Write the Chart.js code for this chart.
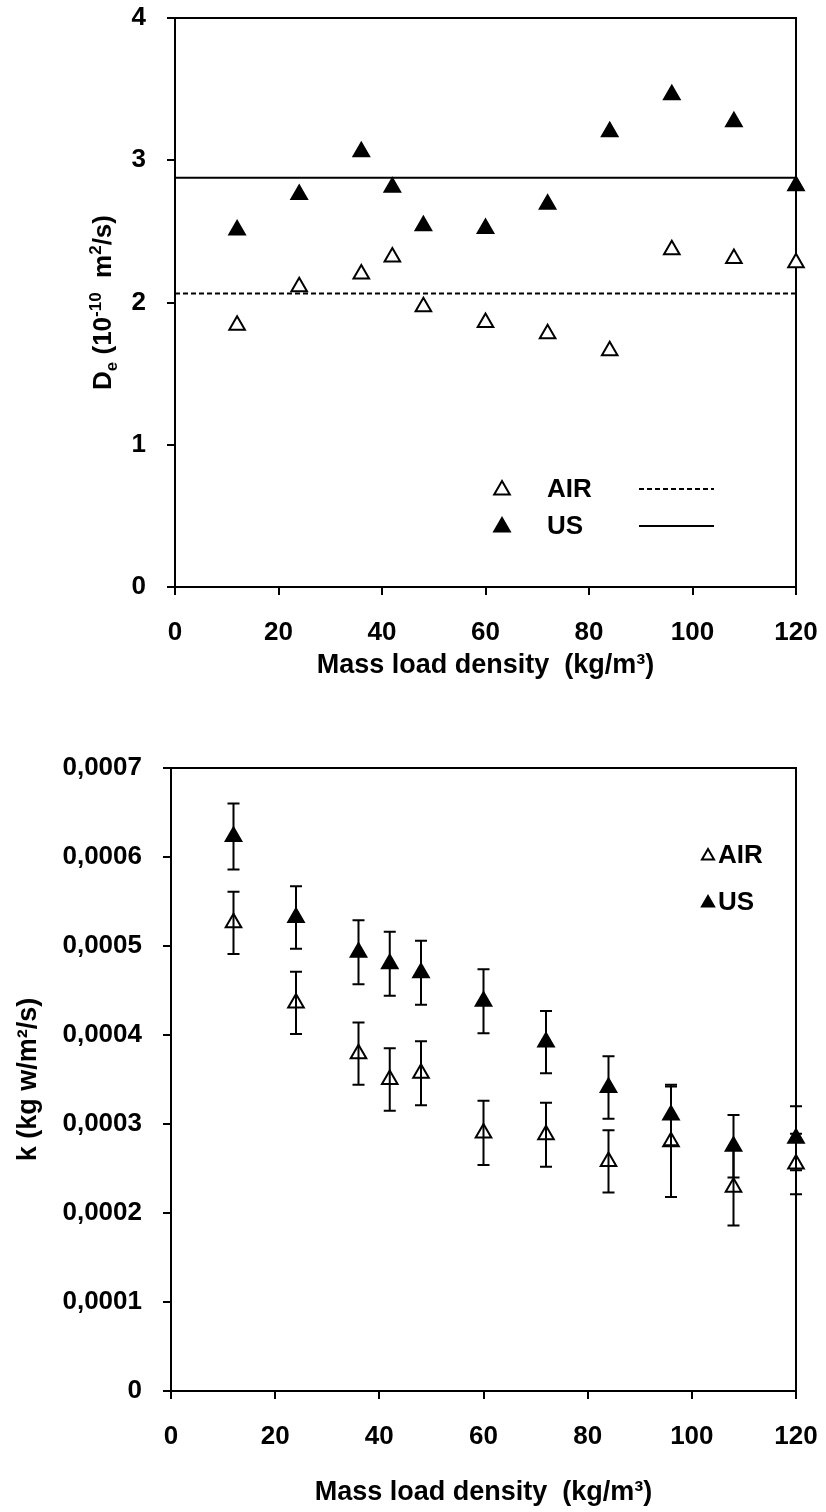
<!DOCTYPE html>
<html>
<head>
<meta charset="utf-8">
<script src="https://cdn.jsdelivr.net/npm/chart.js@4"></script>
<style>
  body { margin: 0; background: #fff; }
  canvas { position: absolute; left: 0; }
  #deChart { top: 0; }
  #kChart { top: 720px; }
</style>
</head>
<body>
<canvas id="deChart" width="826" height="720"></canvas>
<canvas id="kChart" width="826" height="792"></canvas>
<script>
// mass load density, kg/m3
const loads = [12, 24, 36, 42, 48, 60, 72, 84, 96, 108, 120];

// effective diffusivity De, 10^-10 m2/s
const deAir = [1.84, 2.11, 2.20, 2.32, 1.97, 1.86, 1.78, 1.66, 2.37, 2.31, 2.28];
const deUs = [2.51, 2.76, 3.06, 2.81, 2.54, 2.52, 2.69, 3.20, 3.46, 3.27, 2.82];

// mass transfer coefficient k, kg w/m2/s, with error bar half-widths
const kAir = [0.000526, 0.000436, 0.000379, 0.000350, 0.000357, 0.000290, 0.000288, 0.000258, 0.000280, 0.000229, 0.000255];
const kAirErr = [0.000035, 0.000035, 0.000035, 0.000035, 0.000036, 0.000036, 0.000036, 0.000035, 0.000062, 0.000043, 0.000034];
const kUs = [0.000623, 0.000532, 0.000493, 0.000480, 0.000470, 0.000438, 0.000392, 0.000341, 0.000310, 0.000275, 0.000284];
const kUsErr = [0.000037, 0.000035, 0.000036, 0.000036, 0.000036, 0.000036, 0.000035, 0.000035, 0.000034, 0.000035, 0.000036];

const seriesNames = ["AIR", "US"];
const xTitle = "Mass load density  (kg/m³)";
const kTitle = "k (kg w/m²/s)";

const FONT = "'Liberation Sans', Arial, sans-serif";
const tickFont = { family: FONT, size: 26, weight: "bold" };
const titleFont = { family: FONT, size: 27, weight: "bold" };

const points = vals => loads.map((x, i) => ({ x, y: vals[i] }));
const mean = vals => vals.reduce((a, b) => a + b, 0) / vals.length;

// fixed axis box sizes; label overhang must not shrink the plot area
function xScale(height, titlePad) {
  return {
    type: "linear", min: 0, max: 120,
    ticks: { stepSize: 20, color: "#000", font: tickFont, padding: 22, maxRotation: 0 },
    grid: { drawOnChartArea: false, tickLength: 8, color: "#000", lineWidth: 2 },
    border: { color: "#000", width: 2 },
    title: { display: true, text: xTitle, color: "#000", font: titleFont, padding: { top: 0, bottom: titlePad } },
    afterFit: s => { s.height = height; s.paddingLeft = 0; s.paddingRight = 0; }
  };
}

function yScale(width, max, step) {
  return {
    type: "linear", min: 0, max,
    ticks: { stepSize: step, color: "#000", font: tickFont, padding: 21 },
    grid: { drawOnChartArea: false, tickLength: 8, color: "#000", lineWidth: 2 },
    border: { color: "#000", width: 2 },
    afterFit: s => { s.width = width; s.paddingTop = 0; s.paddingBottom = 0; }
  };
}

function marker(filled, r) {
  return {
    pointStyle: "triangle", pointRadius: r, pointHoverRadius: r,
    pointBackgroundColor: filled ? "#000" : "#fff",
    pointBorderColor: "#000", pointBorderWidth: 2,
    showLine: false, clip: false
  };
}

// top and right sides of the plot box
const frame = {
  id: "frame",
  beforeDatasetsDraw(chart) {
    const { ctx, chartArea: a } = chart;
    ctx.save();
    ctx.strokeStyle = "#000";
    ctx.lineWidth = 2;
    ctx.strokeRect(a.left, a.top, a.right - a.left, a.bottom - a.top);
    ctx.restore();
  }
};

// vertical error bars with caps, for datasets carrying an `errors` array
const errorBars = {
  id: "errorBars",
  afterDatasetsDraw(chart) {
    const { ctx, scales: { x, y } } = chart;
    ctx.save();
    ctx.strokeStyle = "#000";
    ctx.lineWidth = 2;
    chart.data.datasets.forEach(ds => {
      if (!ds.errors) return;
      ds.data.forEach((p, i) => {
        const px = x.getPixelForValue(p.x);
        const hi = y.getPixelForValue(p.y + ds.errors[i]);
        const lo = y.getPixelForValue(p.y - ds.errors[i]);
        ctx.beginPath();
        ctx.moveTo(px, hi); ctx.lineTo(px, lo);
        ctx.moveTo(px - 6, hi); ctx.lineTo(px + 6, hi);
        ctx.moveTo(px - 6, lo); ctx.lineTo(px + 6, lo);
        ctx.stroke();
      });
    });
    ctx.restore();
  }
};

// De axis title with subscript / superscripts
const deTitle = {
  id: "deTitle",
  afterDraw(chart) {
    const { ctx, chartArea: a } = chart;
    const parts = [["D", 0], ["e", 1], [" (10", 0], ["-10", -1], ["  m", 0], ["2", -1], ["/s)", 0]];
    const big = `bold 26px ${FONT}`, small = `bold 17px ${FONT}`;
    ctx.save();
    ctx.translate(102, (a.top + a.bottom) / 2);
    ctx.rotate(-Math.PI / 2);
    ctx.fillStyle = "#000";
    ctx.textBaseline = "alphabetic";
    let total = 0;
    parts.forEach(([t, s]) => { ctx.font = s ? small : big; total += ctx.measureText(t).width; });
    let cx = -total / 2;
    parts.forEach(([t, s]) => {
      ctx.font = s ? small : big;
      ctx.fillText(t, cx, 9 + (s === 1 ? 6 : s === -1 ? -10 : 0));
      cx += ctx.measureText(t).width;
    });
    ctx.restore();
  }
};

function legendPlugin(rows) {
  return {
    id: "legendBox",
    afterDraw(chart) {
      const { ctx } = chart;
      ctx.save();
      rows.forEach(row => {
        ctx.fillStyle = row.filled ? "#000" : "#fff";
        ctx.strokeStyle = "#000";
        ctx.lineWidth = 2;
        Chart.helpers.drawPoint(ctx, { pointStyle: "triangle", radius: row.r, borderWidth: 2 }, row.mx, row.y);
        ctx.fillStyle = "#000";
        ctx.font = `bold ${row.size}px ${FONT}`;
        ctx.textBaseline = "middle";
        ctx.fillText(row.text, row.tx, row.y);
        if (row.line) {
          ctx.beginPath();
          ctx.setLineDash(row.dash || []);
          ctx.lineWidth = 2;
          ctx.moveTo(row.line[0], row.y - 1);
          ctx.lineTo(row.line[1], row.y - 1);
          ctx.stroke();
          ctx.setLineDash([]);
        }
      });
      ctx.restore();
    }
  };
}

const airMean = mean(deAir);
const usMean = mean(deUs);

new Chart(document.getElementById("deChart"), {
  type: "scatter",
  data: {
    datasets: [
      { label: "AIR mean", data: [{ x: 0, y: airMean }, { x: 120, y: airMean }], showLine: true,
        borderColor: "#000", borderWidth: 2, borderDash: [5, 3], pointRadius: 0 },
      { label: "US mean", data: [{ x: 0, y: usMean }, { x: 120, y: usMean }], showLine: true,
        borderColor: "#000", borderWidth: 2, pointRadius: 0 },
      { label: seriesNames[0], data: points(deAir), ...marker(false, 9) },
      { label: seriesNames[1], data: points(deUs), ...marker(true, 9) }
    ]
  },
  options: {
    responsive: false, animation: false, devicePixelRatio: 1,
    layout: { autoPadding: false, padding: { left: 0, right: 30, top: 18, bottom: 33 } },
    plugins: { legend: { display: false }, tooltip: { enabled: false } },
    scales: { x: xScale(100, 5), y: yScale(175, 4, 1) }
  },
  plugins: [frame, deTitle, legendPlugin([
    { text: seriesNames[0], filled: false, r: 9, mx: 502, tx: 547, y: 490, size: 26, line: [639, 714], dash: [5, 3] },
    { text: seriesNames[1], filled: true, r: 9, mx: 502, tx: 547, y: 527, size: 26, line: [639, 714] }
  ])]
});

new Chart(document.getElementById("kChart"), {
  type: "scatter",
  data: {
    datasets: [
      { label: seriesNames[0], data: points(kAir), errors: kAirErr, ...marker(false, 9) },
      { label: seriesNames[1], data: points(kUs), errors: kUsErr, ...marker(true, 9) }
    ]
  },
  options: {
    responsive: false, animation: false, devicePixelRatio: 1,
    layout: { autoPadding: false, padding: { left: 0, right: 30, top: 48, bottom: 1 } },
    plugins: { legend: { display: false }, tooltip: { enabled: false } },
    scales: {
      x: xScale(120, 2),
      y: {
        ...yScale(171, 0.0007, 0.0001),
        ticks: {
          stepSize: 0.0001, color: "#000", font: tickFont, padding: 21,
          callback: v => v === 0 ? "0" : v.toFixed(4).replace(".", ",")
        },
        title: { display: true, text: kTitle, color: "#000", font: titleFont, padding: { top: 12, bottom: 0 } }
      }
    }
  },
  plugins: [frame, errorBars, legendPlugin([
    { text: seriesNames[0], filled: false, r: 7, mx: 708, tx: 718, y: 136, size: 26 },
    { text: seriesNames[1], filled: true, r: 7, mx: 708, tx: 718, y: 183, size: 26 }
  ])]
});
</script>
</body>
</html>
